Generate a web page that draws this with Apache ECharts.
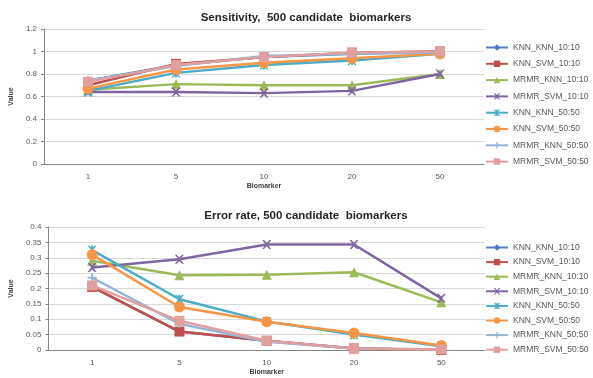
<!DOCTYPE html>
<html>
<head>
<meta charset="utf-8">
<script src="https://cdn.jsdelivr.net/npm/echarts@6/dist/echarts.min.js"></script>
<style>
html,body{margin:0;padding:0;background:#fff;}
#chart{width:593px;height:378px;}
</style>
</head>
<body>
<div id="chart"></div>
<script>
// Number of biomarkers on the x axis
const biomarkers = ['1', '5', '10', '20', '50'];

const seriesNames = ['KNN_KNN_10:10', 'KNN_SVM_10:10', 'MRMR_KNN_10:10', 'MRMR_SVM_10:10',
                     'KNN_KNN_50:50', 'KNN_SVM_50:50', 'MRMR_KNN_50:50', 'MRMR_SVM_50:50'];

// Sensitivity per method
const sensKnnKnn10  = [0.74, 0.88, 0.95, 0.98, 1.00];
const sensKnnSvm10  = [0.70, 0.89, 0.95, 0.99, 1.00];
const sensMrmrKnn10 = [0.66, 0.71, 0.70, 0.70, 0.80];
const sensMrmrSvm10 = [0.64, 0.64, 0.63, 0.65, 0.80];
const sensKnnKnn50  = [0.65, 0.81, 0.88, 0.92, 0.98];
const sensKnnSvm50  = [0.67, 0.84, 0.90, 0.94, 0.98];
const sensMrmrKnn50 = [0.74, 0.87, 0.96, 0.98, 0.99];
const sensMrmrSvm50 = [0.73, 0.88, 0.95, 0.99, 1.00];

// Error rate per method
const errKnnKnn10  = [0.205, 0.060, 0.030, 0.005, 0.000];
const errKnnSvm10  = [0.205, 0.060, 0.030, 0.005, 0.000];
const errMrmrKnn10 = [0.290, 0.243, 0.245, 0.253, 0.155];
const errMrmrSvm10 = [0.268, 0.295, 0.343, 0.343, 0.168];
const errKnnKnn50  = [0.325, 0.165, 0.093, 0.050, 0.012];
const errKnnSvm50  = [0.310, 0.140, 0.092, 0.055, 0.015];
const errMrmrKnn50 = [0.235, 0.085, 0.027, 0.005, 0.002];
const errMrmrSvm50 = [0.210, 0.095, 0.030, 0.005, 0.002];

const sensData = [sensKnnKnn10, sensKnnSvm10, sensMrmrKnn10, sensMrmrSvm10,
                  sensKnnKnn50, sensKnnSvm50, sensMrmrKnn50, sensMrmrSvm50];
const errData  = [errKnnKnn10, errKnnSvm10, errMrmrKnn10, errMrmrSvm10,
                  errKnnKnn50, errKnnSvm50, errMrmrKnn50, errMrmrSvm50];

const colors = ['#4F81BD', '#C0504D', '#9BBB59', '#8064A2', '#4BACC6', '#F79646', '#95B3D7', '#E0A09E'];

// Marker shapes: diamond, square, triangle, x, star-x, circle, plus, dash
const xPath = 'path://M0,0 L2,0 L5,3 L8,0 L10,0 L6,5 L10,10 L8,10 L5,7 L2,10 L0,10 L4,5 Z';
const starPath = 'path://M0,0 L2,0 L5,3 L8,0 L10,0 L6,5 L10,10 L8,10 L5,7 L2,10 L0,10 L4,5 Z M4,0 L6,0 L6,10 L4,10 Z';
const plusPath = 'path://M4,0 L6,0 L6,4 L10,4 L10,6 L6,6 L6,10 L4,10 L4,6 L0,6 L0,4 L4,4 Z';
const dashPath = 'path://M0,4 L10,4 L10,6 L0,6 Z';
const symbols = ['diamond', 'rect', 'triangle', xPath, starPath, 'circle', plusPath, dashPath];
const sizes = [9, 10, 10, 9, 9, 11, 9, 10];

const labelColor = '#595959';
const fontFam = '"Liberation Sans", Arial, sans-serif';

function makeSeries(data, idx) {
  return data.map((vals, i) => ({
    name: seriesNames[i],
    type: 'line',
    xAxisIndex: idx,
    yAxisIndex: idx,
    data: vals,
    symbol: symbols[i],
    symbolSize: sizes[i],
    showAllSymbol: true,
    lineStyle: { color: colors[i], width: 2.5 },
    itemStyle: { color: colors[i] },
    emphasis: { disabled: true },
    z: 2 + i
  }));
}

function xAxisDef(idx) {
  return {
    type: 'category',
    gridIndex: idx,
    data: biomarkers,
    boundaryGap: true,
    name: 'Biomarker',
    nameLocation: 'middle',
    nameGap: 19,
    nameTextStyle: { fontSize: 7, fontWeight: 'bold', color: '#404040', fontFamily: fontFam },
    axisLine: { lineStyle: { color: '#868686', width: 1 } },
    axisTick: { show: false },
    axisLabel: { fontSize: 8, color: labelColor, fontFamily: fontFam, margin: 9 },
    splitLine: { show: false }
  };
}

function yAxisDef(idx, max, interval) {
  return {
    type: 'value',
    gridIndex: idx,
    min: 0,
    max: max,
    interval: interval,
    name: 'Value',
    nameLocation: 'middle',
    nameGap: 26,
    nameTextStyle: { fontSize: 7, fontWeight: 'bold', color: '#404040', fontFamily: fontFam },
    axisLine: { show: true, lineStyle: { color: '#868686', width: 1 } },
    axisTick: { show: true, length: 3, lineStyle: { color: '#868686' } },
    axisLabel: { fontSize: 8, color: labelColor, fontFamily: fontFam, margin: 7 },
    splitLine: { lineStyle: { color: '#D9D9D9', width: 1 } }
  };
}

function legendDef(top, gap) {
  return {
    data: seriesNames,
    orient: 'vertical',
    left: 485,
    top: top,
    padding: 0,
    itemWidth: 22,
    itemHeight: 8,
    itemGap: gap,
    textStyle: { fontSize: 8.5, lineHeight: 9, color: labelColor, fontFamily: fontFam },
    selectedMode: false
  };
}

const chart = echarts.init(document.getElementById('chart'));
chart.setOption({
  animation: false,
  backgroundColor: '#fff',
  color: colors,
  title: [
    { text: 'Sensitivity,  500 candidate  biomarkers', left: 301, top: 7, textAlign: 'center',
      textStyle: { fontSize: 11.5, fontWeight: 'bold', color: '#262626', fontFamily: fontFam } },
    { text: 'Error rate, 500 candidate  biomarkers', left: 301, top: 205, textAlign: 'center',
      textStyle: { fontSize: 11.5, fontWeight: 'bold', color: '#262626', fontFamily: fontFam } }
  ],
  legend: [legendDef(43, 7.3), legendDef(243, 5.6)],
  grid: [
    { left: 37, right: 109, top: 29, bottom: 214, containLabel: false },
    { left: 40, right: 108, top: 227, bottom: 28, containLabel: false }
  ],
  xAxis: [xAxisDef(0), xAxisDef(1)],
  yAxis: [yAxisDef(0, 1.2, 0.2), yAxisDef(1, 0.4, 0.05)],
  series: makeSeries(sensData, 0).concat(makeSeries(errData, 1))
});
</script>
</body>
</html>
